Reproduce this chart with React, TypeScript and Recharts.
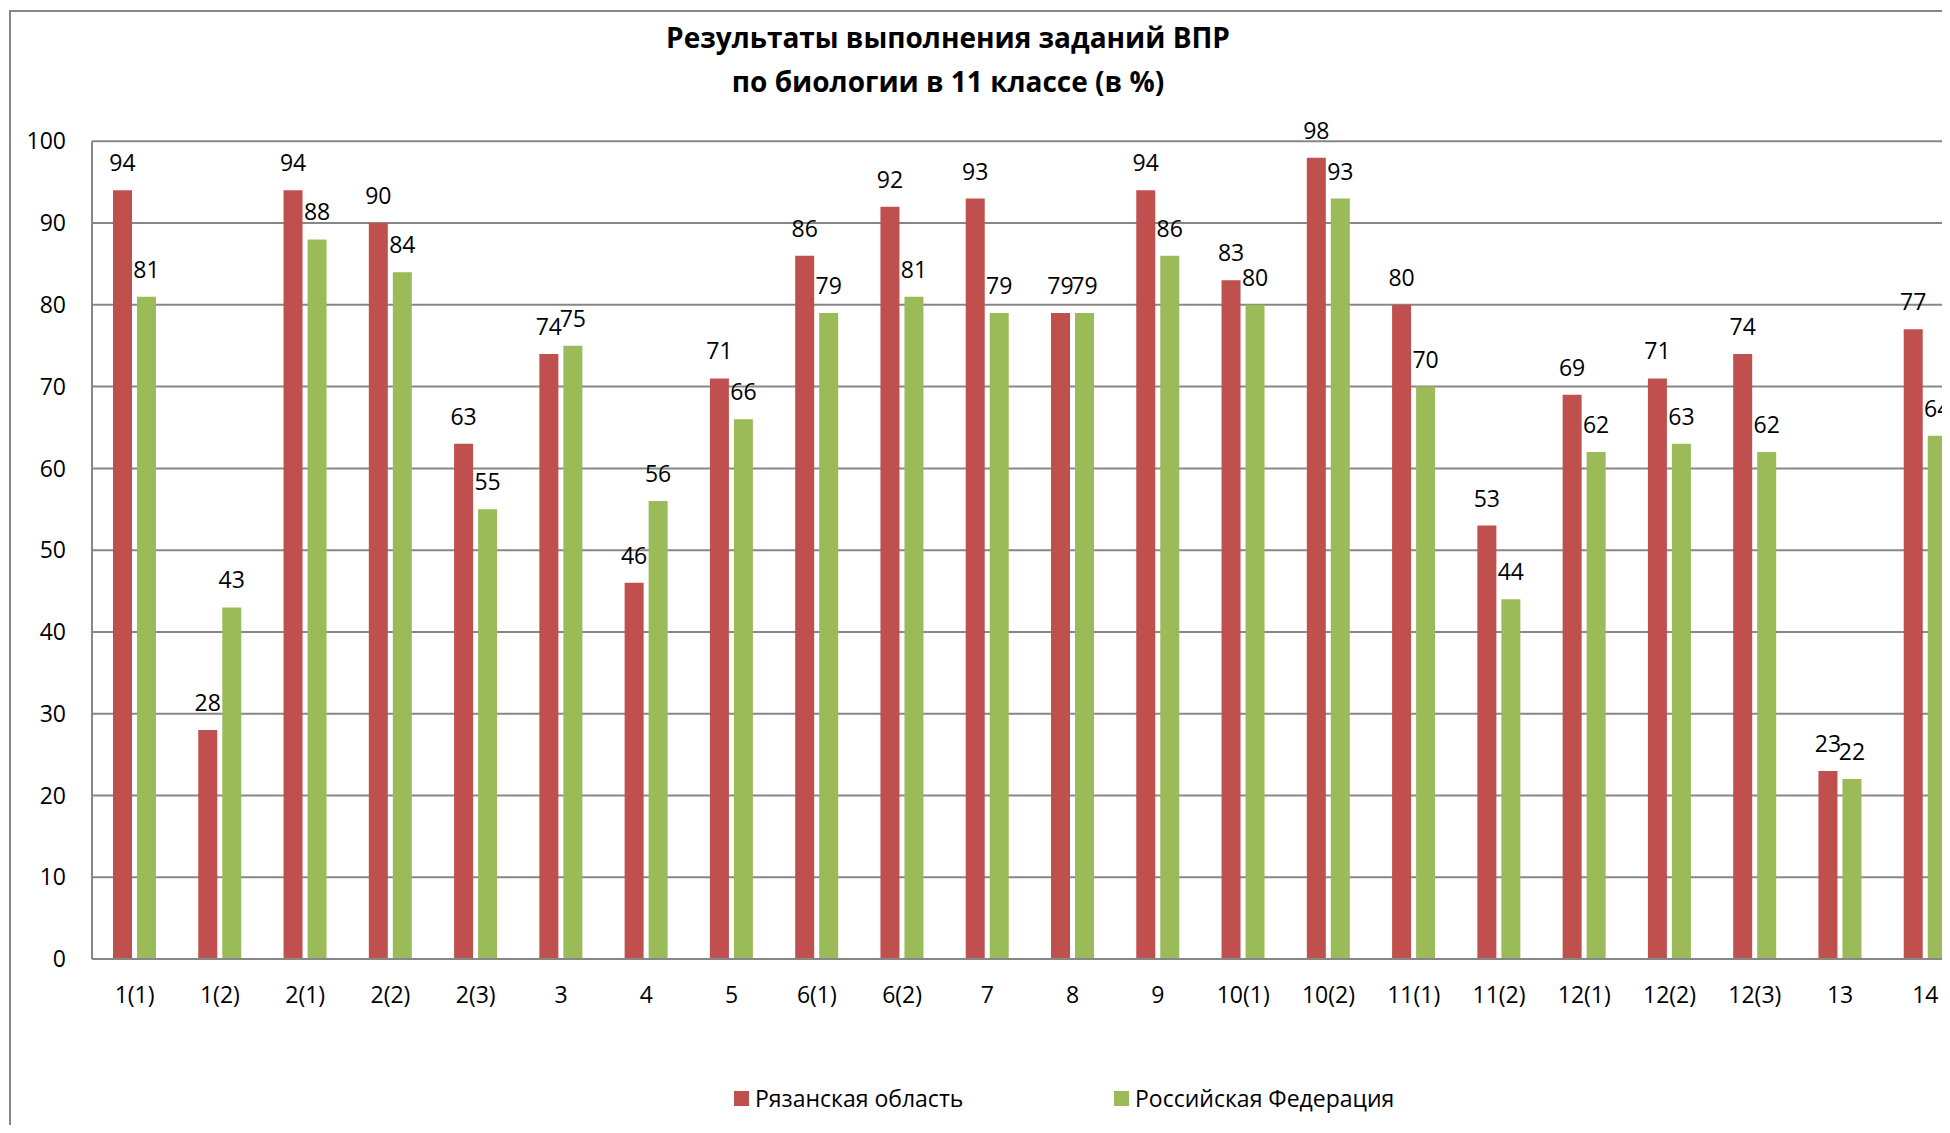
import { BarChart, Bar, XAxis, YAxis, CartesianGrid, LabelList, Legend } from 'recharts';

const tasks = [
  '1(1)', '1(2)', '2(1)', '2(2)', '2(3)', '3', '4', '5', '6(1)', '6(2)', '7',
  '8', '9', '10(1)', '10(2)', '11(1)', '11(2)', '12(1)', '12(2)', '12(3)', '13', '14',
];
const ryazan = [94, 28, 94, 90, 63, 74, 46, 71, 86, 92, 93, 79, 94, 83, 98, 80, 53, 69, 71, 74, 23, 77];
const russia = [81, 43, 88, 84, 55, 75, 56, 66, 79, 81, 79, 79, 86, 80, 93, 70, 44, 62, 63, 62, 22, 64];
const yTicks = [0, 10, 20, 30, 40, 50, 60, 70, 80, 90, 100];
const seriesNames = ['Рязанская область', 'Российская Федерация'];

const data = tasks.map((task, i) => ({ task, ryazan: ryazan[i], russia: russia[i] }));

const FONT = '"Open Sans", sans-serif';
const GRID = '#878787';
const RED = '#C0504D';
const GREEN = '#9BBB59';
const TEXT_SIZE = 23;

function ChartLegend(props: any) {
  // keep series order (recharts sorts legend items by name otherwise)
  const items = [...(props.payload ?? [])].sort(
    (a: any, b: any) => seriesNames.indexOf(a.value) - seriesNames.indexOf(b.value),
  );
  return (
    <div style={{ display: 'flex', fontFamily: FONT, fontSize: TEXT_SIZE, color: '#000' }}>
      {items.map((item: any) => (
        <div key={item.value} style={{ width: 380, height: 30, display: 'flex', alignItems: 'center' }}>
          <span style={{ width: 15, height: 15, background: item.color, marginRight: 6, display: 'inline-block' }} />
          <span>{item.value}</span>
        </div>
      ))}
    </div>
  );
}

export default function App() {
  const tick = { fill: '#000', fontSize: TEXT_SIZE, fontFamily: FONT };
  return (
    <div style={{ position: 'relative', width: 1942, height: 1117, overflow: 'hidden', background: '#fff', fontFamily: FONT }}>
      <div style={{ position: 'absolute', left: 1, top: 2, width: 2100, height: 1300, border: `2px solid ${GRID}` }} />
      <div
        style={{
          position: 'absolute', left: 0, top: 8, width: 1880, textAlign: 'center',
          fontWeight: 700, fontSize: 28, lineHeight: '43.5px', color: '#000',
        }}
      >
        Результаты выполнения заданий ВПР
        <br />
        по биологии в 11 классе (в %)
      </div>
      <div style={{ position: 'absolute', left: 0, top: 0 }}>
        <BarChart
          width={1980}
          height={1125}
          data={data}
          margin={{ top: 133.3, right: 20, bottom: 114, left: 0 }}
          barSize={19}
          barGap={5}
        >
          <CartesianGrid vertical={false} stroke={GRID} strokeWidth={2} />
          <XAxis
            dataKey="task"
            height={60}
            tickSize={0}
            tickMargin={28}
            tick={tick}
            axisLine={{ stroke: GRID, strokeWidth: 2 }}
            tickLine={false}
            interval={0}
          />
          <YAxis
            width={84}
            domain={[0, 100]}
            ticks={yTicks}
            tickSize={0}
            tickMargin={26}
            tick={tick}
            axisLine={{ stroke: GRID, strokeWidth: 2 }}
            tickLine={false}
          />
          <Legend
            layout="horizontal"
            verticalAlign="middle"
            align="center"
            wrapperStyle={{ left: 726, top: 1075, width: 800, height: 30 }}
            content={ChartLegend}
          />
          <Bar dataKey="ryazan" name={seriesNames[0]} fill={RED} isAnimationActive={false}>
            <LabelList dataKey="ryazan" position="top" offset={19} fill="#000" fontSize={TEXT_SIZE} fontFamily={FONT} />
          </Bar>
          <Bar dataKey="russia" name={seriesNames[1]} fill={GREEN} isAnimationActive={false}>
            <LabelList dataKey="russia" position="top" offset={19} fill="#000" fontSize={TEXT_SIZE} fontFamily={FONT} />
          </Bar>
        </BarChart>
      </div>
    </div>
  );
}
